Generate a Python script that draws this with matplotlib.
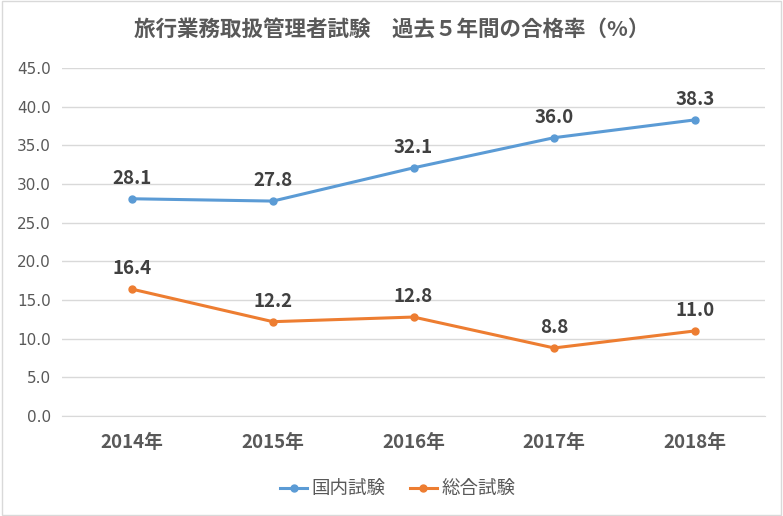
import matplotlib.pyplot as plt
from matplotlib.patches import Rectangle

plt.rcParams['font.family'] = ['Noto Sans CJK JP', 'DejaVu Sans']

years = ['2014年', '2015年', '2016年', '2017年', '2018年']
domestic = [28.1, 27.8, 32.1, 36.0, 38.3]
general = [16.4, 12.2, 12.8, 8.8, 11.0]
yticks = [0, 5, 10, 15, 20, 25, 30, 35, 40, 45]

blue = '#5B9BD5'
orange = '#ED7D31'
gray = '#595959'

fig = plt.figure(figsize=(7.83, 5.16), dpi=100)
ax = fig.add_axes([0.0792, 0.1938, 0.8978, 0.6742])

x = range(len(years))
ax.plot(x, domestic, color=blue, lw=2.2, marker='o', ms=5, label='国内試験')
ax.plot(x, general, color=orange, lw=2.2, marker='o', ms=5, label='総合試験')

for i, v in enumerate(domestic):
    ax.annotate(f'{v:.1f}', (i, v), xytext=(0, 8), textcoords='offset points',
                ha='center', va='bottom', fontsize=13.5, fontweight='bold', color='#404040')
for i, v in enumerate(general):
    ax.annotate(f'{v:.1f}', (i, v), xytext=(0, 8), textcoords='offset points',
                ha='center', va='bottom', fontsize=13.5, fontweight='bold', color='#404040')

ax.set_xlim(-0.5, len(years) - 0.5)
ax.set_ylim(0, 45)
ax.set_yticks(yticks)
ax.set_yticklabels([f'{t:.1f}' for t in yticks], fontsize=11, color=gray,
                   family=['DejaVu Sans'])
ax.set_xticks(list(x))
ax.set_xticklabels(years, fontsize=13.5, fontweight='bold', color=gray)
ax.tick_params(axis='both', length=0)
ax.tick_params(axis='x', pad=12)
ax.tick_params(axis='y', pad=8)
ax.grid(axis='y', color='#D9D9D9', lw=1)
ax.set_axisbelow(True)
for s in ['top', 'right', 'left']:
    ax.spines[s].set_visible(False)
ax.spines['bottom'].set_color('#D9D9D9')

fig.text(0.5, 0.942, '旅行業務取扱管理者試験　過去５年間の合格率（%）', ha='center', va='center',
         fontsize=15.5, fontweight='bold', color=gray)

fig.legend(loc='center', bbox_to_anchor=(0.508, 0.052), ncol=2, frameon=False,
           fontsize=13.3, labelcolor=gray, handlelength=1.45, columnspacing=1.3,
           handletextpad=0.25)

fig.patches.append(Rectangle((0.002, 0.002), 0.996, 0.996, transform=fig.transFigure,
                             fill=False, edgecolor='#D9D9D9', lw=1))

fig.savefig('out.png', dpi=100)
